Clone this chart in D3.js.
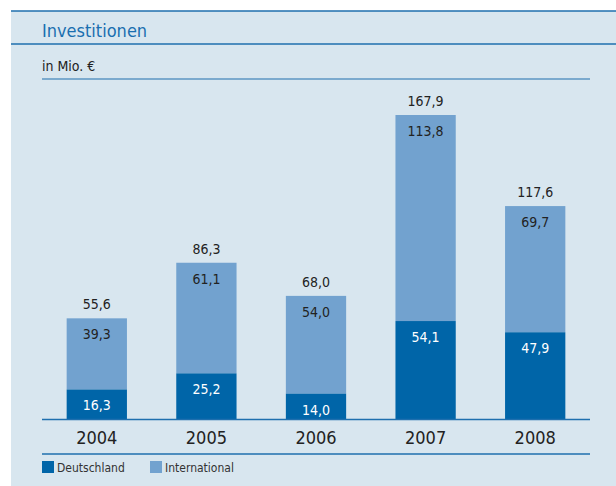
<!DOCTYPE html>
<html>
<head>
<meta charset="utf-8">
<script src="https://cdn.jsdelivr.net/npm/d3@7"></script>
<style>
  body { margin:0; background:#fff; }
  text { font-family: "Liberation Sans Narrow", "DejaVu Sans Condensed", "Roboto", sans-serif; }
</style>
</head>
<body>
<script>
var years = ["2004", "2005", "2006", "2007", "2008"];
var deutschland = [16.3, 25.2, 14.0, 54.1, 47.9];
var international = [39.3, 61.1, 54.0, 113.8, 69.7];
var totals = [55.6, 86.3, 68.0, 167.9, 117.6];
var seriesNames = ["Deutschland", "International"];

var width = 616, height = 486;
var colDark = "#0065a8", colLight = "#72a2cf", lineCol = "#1f6fae";

var svg = d3.select("body").append("svg")
  .attr("width", width)
  .attr("height", height);

svg.append("rect").attr("x", 11).attr("y", 11).attr("width", width - 11).attr("height", height - 11)
  .attr("fill", "#d8e6ef");

svg.append("line").attr("x1", 11).attr("x2", width).attr("y1", 11).attr("y2", 11)
  .attr("stroke", lineCol).attr("stroke-width", 1.5);
svg.append("line").attr("x1", 11).attr("x2", width).attr("y1", 44).attr("y2", 44)
  .attr("stroke", lineCol).attr("stroke-width", 1.5);

svg.append("text").attr("x", 42).attr("y", 37).text("Investitionen")
  .attr("fill", "#1a6fb0").attr("font-size", 18);
svg.append("text").attr("x", 42).attr("y", 71).text("in Mio. €")
  .attr("fill", "#222").attr("font-size", 14);

svg.append("line").attr("x1", 42).attr("x2", 590).attr("y1", 79).attr("y2", 79)
  .attr("stroke", lineCol).attr("stroke-width", 1.2);

var margins = { left: 42, right: 26, bottom: 419 };

var x = d3.scaleBand()
  .domain(years)
  .range([margins.left, width - margins.right])
  .paddingInner(0.45)
  .paddingOuter(0.225);

var y = d3.scaleLinear()
  .domain([0, 167.9])
  .range([margins.bottom, 115]);

var rows = years.map(function(yr, i) {
  return { year: yr, d: deutschland[i], intl: international[i], total: totals[i] };
});

var g = svg.append("g");

g.selectAll("rect.intl")
  .data(rows).enter().append("rect")
  .attr("x", function(d) { return x(d.year); })
  .attr("width", x.bandwidth())
  .attr("y", function(d) { return y(d.d + d.intl); })
  .attr("height", function(d) { return y(d.d) - y(d.d + d.intl); })
  .attr("fill", colLight);

g.selectAll("rect.de")
  .data(rows).enter().append("rect")
  .attr("x", function(d) { return x(d.year); })
  .attr("width", x.bandwidth())
  .attr("y", function(d) { return y(d.d); })
  .attr("height", function(d) { return y(0) - y(d.d); })
  .attr("fill", colDark);

var fmt = function(v) { return d3.format(".1f")(v).replace(".", ","); };

g.selectAll("text.total")
  .data(rows).enter().append("text")
  .attr("x", function(d) { return x(d.year) + x.bandwidth() / 2; })
  .attr("y", function(d) { return y(d.total) - 9; })
  .attr("text-anchor", "middle").attr("font-size", 14).attr("fill", "#222")
  .text(function(d) { return fmt(d.total); });

g.selectAll("text.intl")
  .data(rows).enter().append("text")
  .attr("x", function(d) { return x(d.year) + x.bandwidth() / 2; })
  .attr("y", function(d) { return y(d.d + d.intl) + 21; })
  .attr("text-anchor", "middle").attr("font-size", 14).attr("fill", "#222")
  .text(function(d) { return fmt(d.intl); });

g.selectAll("text.de")
  .data(rows).enter().append("text")
  .attr("x", function(d) { return x(d.year) + x.bandwidth() / 2; })
  .attr("y", function(d) { return y(d.d) + 21; })
  .attr("text-anchor", "middle").attr("font-size", 14).attr("fill", "#fff")
  .text(function(d) { return fmt(d.d); });

// axis
var axis = svg.append("g")
  .attr("transform", "translate(0," + margins.bottom + ")")
  .call(d3.axisBottom(x).tickSize(0).tickPadding(12));
axis.select(".domain").attr("stroke", lineCol).attr("stroke-width", 1.5)
  .attr("d", "M" + margins.left + ",0.5H590");
axis.selectAll("text").attr("font-size", 18).attr("fill", "#222")
  .attr("font-family", "'Liberation Sans Narrow', 'DejaVu Sans Condensed', sans-serif");

svg.append("line").attr("x1", 42).attr("x2", 590).attr("y1", 454).attr("y2", 454)
  .attr("stroke", lineCol).attr("stroke-width", 1.5);

// legend
var legendX = [42, 150];
var legendCol = [colDark, colLight];
var leg = svg.selectAll("g.leg").data(seriesNames).enter().append("g")
  .attr("transform", function(d, i) { return "translate(" + legendX[i] + ",461)"; });
leg.append("rect").attr("width", 12).attr("height", 12)
  .attr("fill", function(d, i) { return legendCol[i]; });
leg.append("text").attr("x", 15).attr("y", 11).attr("font-size", 12).attr("fill", "#333")
  .text(function(d) { return d; });
</script>
</body>
</html>
